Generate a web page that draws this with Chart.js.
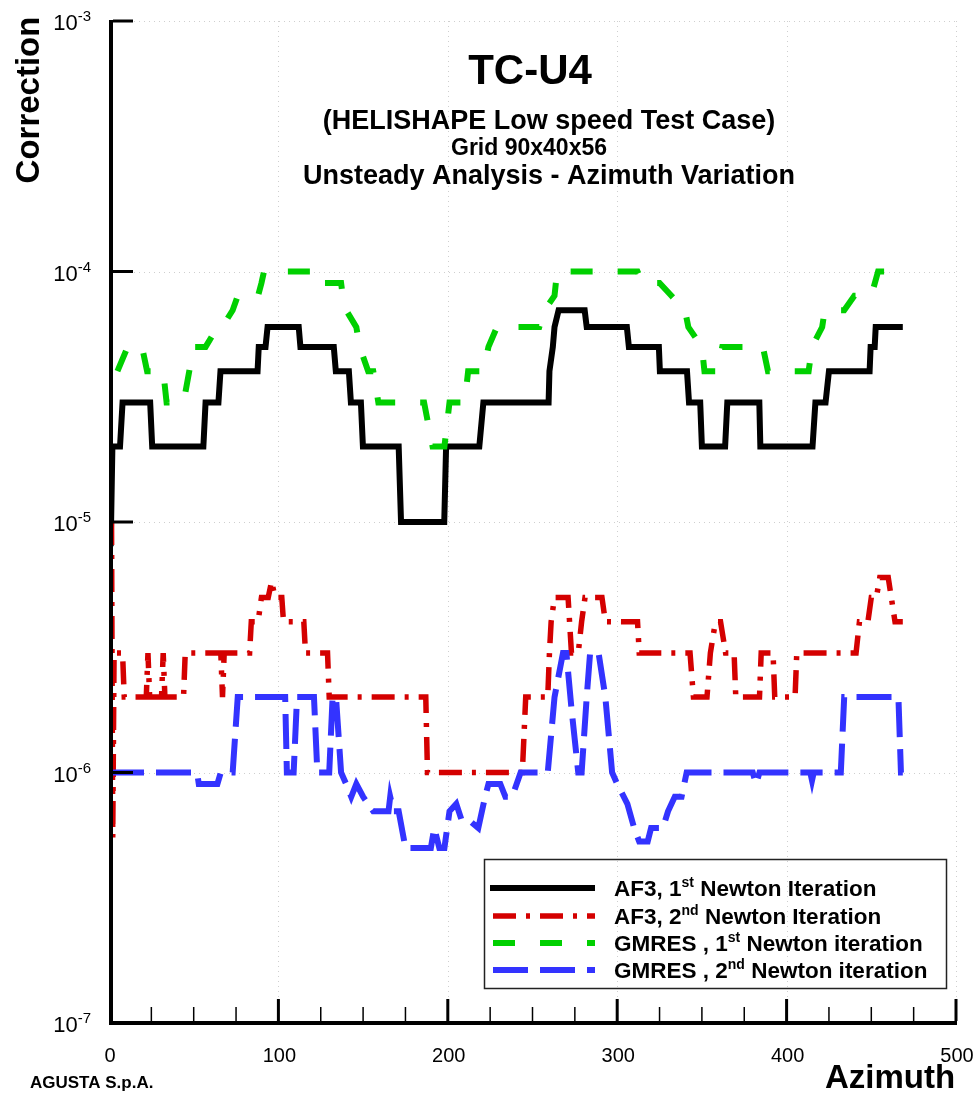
<!DOCTYPE html>
<html>
<head>
<meta charset="utf-8">
<script src="https://cdn.jsdelivr.net/npm/chart.js@4.4.1/dist/chart.umd.min.js"></script>
<style>
  html, body { margin: 0; padding: 0; background: #fff; }
  #wrap { width: 979px; height: 1097px; }
</style>
</head>
<body>
<div id="wrap"><canvas id="chart" width="979" height="1097"></canvas></div>
<script>
// AF3, 1st Newton iteration
const af3FirstAz = [1, 2, 6.5, 8, 24.3, 25.5, 55.7, 57, 64.6, 65.8, 87.7, 88.4, 92.4, 93.6, 112, 113,
  132.7, 133.9, 141.6, 142.8, 148.7, 149.9, 171, 172.4, 197.9, 199, 218.6, 221, 259.5, 260, 262, 263,
  265.4, 280.8, 282, 305.7, 306.9, 324.6, 325.2, 341.2, 342.4, 349, 350, 363.7, 365, 383.9, 384.5,
  415.3, 417, 423, 425, 449, 449.6, 452, 452.6, 468.6];
const af3FirstVal = [8e-6, 2e-5, 2e-5, 3e-5, 3e-5, 2e-5, 2e-5, 3e-5, 3e-5, 4e-5, 4e-5, 5e-5, 5e-5, 6e-5, 6e-5, 5e-5,
  5e-5, 4e-5, 4e-5, 3e-5, 3e-5, 2e-5, 2e-5, 1e-5, 1e-5, 2e-5, 2e-5, 3e-5, 3e-5, 4e-5, 5e-5, 6e-5,
  7e-5, 7e-5, 6e-5, 6e-5, 5e-5, 5e-5, 4e-5, 4e-5, 3e-5, 3e-5, 2e-5, 2e-5, 3e-5, 3e-5, 2e-5,
  2e-5, 3e-5, 3e-5, 4e-5, 4e-5, 5e-5, 5e-5, 6e-5, 6e-5];

// AF3, 2nd Newton iteration
const af3SecondAz = [1.5, 2.2, 3, 8, 9, 22, 23, 24, 31, 32, 33, 44, 45, 66, 67, 68, 83, 84, 88, 90,
  94, 96, 98, 102, 103, 115, 116, 129, 130, 187, 188, 244, 246, 259, 260, 261, 263, 271, 273, 277,
  279, 281, 291, 293, 312, 313, 343, 345, 353, 355, 358, 361, 364, 369, 370, 384, 385, 392, 393, 405,
  406, 441, 443, 448, 450, 453, 455, 460, 464, 468.6];
const af3SecondVal = [1e-5, 5.5e-7, 3e-6, 3e-6, 2e-6, 2e-6, 3e-6, 2e-6, 2e-6, 3e-6, 2e-6, 2e-6, 3e-6, 3e-6, 2e-6, 3e-6, 3e-6, 4e-6, 4e-6, 5e-6,
  5e-6, 5.8e-6, 5e-6, 5e-6, 4e-6, 4e-6, 3e-6, 3e-6, 2e-6, 2e-6, 1e-6, 1e-6, 2e-6, 2e-6, 3e-6, 4e-6, 5e-6, 5e-6, 3e-6, 3e-6,
  4e-6, 5e-6, 5e-6, 4e-6, 4e-6, 3e-6, 3e-6, 2e-6, 2e-6, 3e-6, 4e-6, 4e-6, 3e-6, 3e-6, 2e-6, 2e-6, 3e-6, 3e-6, 2e-6, 2e-6,
  3e-6, 3e-6, 4e-6, 4e-6, 5e-6, 5e-6, 6e-6, 6e-6, 4e-6, 4e-6];

// GMRES, 1st Newton iteration
const gmresFirstAz = [5, 11, 19.5, 22.5, 32, 34, 42, 44, 50, 57, 64, 70, 73, 76, 88, 90, 91.5, 125, 126, 137,
  138, 140, 146, 148, 153, 156, 159, 186, 191, 198, 201, 210, 212, 221, 224, 229, 254, 257, 263, 264.5,
  312, 315, 325, 332, 340, 342, 350, 351.5, 359, 362, 386, 389, 413, 415, 421, 422.5, 434, 440, 450, 454, 468.6];
const gmresFirstVal = [4e-5, 5e-5, 5e-5, 4e-5, 4e-5, 3e-5, 3e-5, 3e-5, 5e-5, 5e-5, 6e-5, 6.5e-5, 7e-5, 8e-5, 8e-5, 9e-5, 1e-4, 1e-4, 9e-5, 9e-5,
  8e-5, 7e-5, 6e-5, 5e-5, 4e-5, 4e-5, 3e-5, 3e-5, 2e-5, 2e-5, 3e-5, 3e-5, 4e-5, 4e-5, 5e-5, 6e-5, 6e-5, 7e-5, 8e-5, 1e-4,
  1e-4, 9e-5, 9e-5, 8e-5, 7e-5, 6e-5, 5e-5, 4e-5, 4e-5, 5e-5, 5e-5, 4e-5, 4e-5, 5e-5, 6e-5, 7e-5, 7e-5, 8e-5, 8e-5, 1e-4, 1e-4];

// GMRES, 2nd Newton iteration
const gmresSecondAz = [0, 52, 53, 64, 66, 73, 76, 104, 105, 109, 111, 121, 123, 130, 132, 134, 137, 140, 143, 146,
  150, 156, 165, 166, 168, 171, 175, 190, 192, 195, 198, 201, 205, 208, 212, 218, 222, 224, 231, 234,
  238, 243, 259, 263, 268, 270, 273, 277, 279, 282, 284, 289, 293, 297, 300, 306, 310, 313, 318, 320,
  327, 330, 334, 338, 341, 380, 382, 384, 414, 415, 416, 432, 434, 466, 467.5, 468.6];
const gmresSecondVal = [1e-6, 1e-6, 9e-7, 9e-7, 1e-6, 1e-6, 2e-6, 2e-6, 1e-6, 1e-6, 2e-6, 2e-6, 1e-6, 1e-6, 2e-6, 2e-6, 1e-6, 9e-7, 8e-7, 9e-7,
  8e-7, 7e-7, 7e-7, 8e-7, 7e-7, 7e-7, 5e-7, 5e-7, 6e-7, 5e-7, 5e-7, 7e-7, 7.5e-7, 6.5e-7, 6.5e-7, 6e-7, 8e-7, 9e-7, 9e-7, 8e-7,
  8e-7, 1e-6, 1e-6, 2e-6, 3e-6, 3e-6, 1.8e-6, 1e-6, 1e-6, 2e-6, 3e-6, 3e-6, 2e-6, 1e-6, 9e-7, 7.5e-7, 6e-7, 5.3e-7, 5.3e-7, 6e-7,
  6e-7, 7e-7, 8e-7, 8e-7, 1e-6, 1e-6, 9e-7, 1e-6, 1e-6, 9.3e-7, 1e-6, 1e-6, 2e-6, 2e-6, 1e-6, 1e-6];

// axes
const xMajorTicks = [0, 100, 200, 300, 400, 500];
const xTickLabels = ['0', '100', '200', '300', '400', '500'];
const yDecades = [-3, -4, -5, -6, -7];

// legend texts: [text, superscript, text]
const legendParts = [
  ['AF3, 1', 'st', ' Newton Iteration'],
  ['AF3, 2', 'nd', ' Newton Iteration'],
  ['GMRES , 1', 'st', ' Newton iteration'],
  ['GMRES , 2', 'nd', ' Newton iteration']
];

const FONT = '"Liberation Sans", Arial, Helvetica, sans-serif';

function pts(az, val) {
  return az.map((a, i) => ({ x: a, y: val[i] }));
}

function line(ctx, x1, y1, x2, y2) {
  ctx.beginPath();
  ctx.moveTo(x1, y1);
  ctx.lineTo(x2, y2);
  ctx.stroke();
}

// draws text with superscripts, parts alternate normal / sup
function drawParts(ctx, x, y, parts, size, weight) {
  let cx = x;
  parts.forEach((p, i) => {
    const sup = i % 2 === 1;
    ctx.font = `${weight} ${sup ? Math.round(size * 0.6) : size}px ${FONT}`;
    ctx.fillText(p, cx, sup ? y - size * 0.4 : y);
    cx += ctx.measureText(p).width;
  });
}

const decor = {
  id: 'decor',
  beforeDatasetsDraw(chart) {
    const { ctx, chartArea: a, scales: { x, y } } = chart;
    ctx.save();
    // faint dotted grid at the major ticks
    ctx.strokeStyle = '#cfcfcf';
    ctx.lineWidth = 1;
    ctx.setLineDash([1, 4]);
    xMajorTicks.slice(1).forEach(v => {
      const px = Math.round(x.getPixelForValue(v)) + 0.5;
      line(ctx, px, a.top, px, a.bottom);
    });
    yDecades.slice(0, -1).forEach(e => {
      const py = Math.round(y.getPixelForValue(Math.pow(10, e))) + 0.5;
      line(ctx, a.left, py, a.right, py);
    });
    ctx.restore();
  },
  afterDatasetsDraw(chart) {
    const { ctx, chartArea: a, scales: { x, y } } = chart;
    ctx.save();
    ctx.fillStyle = '#000';
    ctx.strokeStyle = '#000';

    // axis lines
    ctx.fillRect(a.left, a.top - 1, 4, a.bottom - a.top + 3);
    ctx.fillRect(a.left, a.bottom - 2, a.right - a.left + 1, 4);

    // y ticks (inward), major at decades, minor 2..9
    yDecades.forEach(e => {
      const py = y.getPixelForValue(Math.pow(10, e));
      ctx.lineWidth = 3;
      line(ctx, a.left + 4, py, a.left + 24, py);
      if (e > -3) {
        ctx.lineWidth = 1.5;
        for (let m = 2; m <= 9; m++) {
          const pm = y.getPixelForValue(m * Math.pow(10, e));
          line(ctx, a.left + 4, pm, a.left + 15, pm);
        }
      }
    });

    // x ticks (upward), major every 100, minor every 25
    for (let v = 0; v <= 500; v += 25) {
      const px = x.getPixelForValue(v);
      const major = v % 100 === 0;
      ctx.lineWidth = major ? 3 : 1.5;
      if (v > 0) line(ctx, px, a.bottom - 2, px, a.bottom - (major ? 24 : 16));
    }

    // tick labels
    ctx.textBaseline = 'middle';
    ctx.textAlign = 'center';
    ctx.font = `20px ${FONT}`;
    xMajorTicks.forEach((v, i) => {
      ctx.fillText(xTickLabels[i], x.getPixelForValue(v) + 1, a.bottom + 33);
    });
    ctx.textAlign = 'left';
    yDecades.forEach(e => {
      const py = y.getPixelForValue(Math.pow(10, e));
      ctx.font = `15px ${FONT}`;
      const sup = String(e);
      const sw = ctx.measureText(sup).width;
      ctx.font = `22px ${FONT}`;
      const bw = ctx.measureText('10').width;
      const right = 91;
      ctx.fillText('10', right - sw - bw, py + 3);
      ctx.font = `15px ${FONT}`;
      ctx.fillText(sup, right - sw, py - 4);
    });

    // axis titles
    ctx.font = `bold 33px ${FONT}`;
    ctx.textAlign = 'center';
    ctx.save();
    ctx.translate(30, 100);
    ctx.rotate(-Math.PI / 2);
    ctx.fillText('Correction', 0, 0);
    ctx.restore();
    ctx.fillText('Azimuth', 890, 1079);
    ctx.font = `bold 17px ${FONT}`;
    ctx.textAlign = 'left';
    ctx.fillText('AGUSTA S.p.A.', 30, 1083);

    // title block
    ctx.textAlign = 'center';
    ctx.font = `bold 42px ${FONT}`;
    ctx.fillText('TC-U4', 530, 72);
    ctx.font = `bold 27px ${FONT}`;
    ctx.fillText('(HELISHAPE Low speed Test Case)', 549, 122);
    ctx.fillText('Unsteady Analysis - Azimuth Variation', 549, 177);
    ctx.font = `bold 23px ${FONT}`;
    ctx.fillText('Grid 90x40x56', 529, 149);

    // legend
    ctx.lineWidth = 1.5;
    ctx.strokeStyle = '#222';
    ctx.strokeRect(484.5, 859.5, 462, 129);
    const rowY = [888, 916, 943, 970];
    chart.data.datasets.forEach((ds, i) => {
      ctx.save();
      ctx.strokeStyle = ds.borderColor;
      ctx.lineWidth = ds.borderWidth;
      ctx.setLineDash(ds.borderDash);
      line(ctx, i === 0 ? 490 : 493, rowY[i], 595, rowY[i]);
      ctx.restore();
      ctx.textAlign = 'left';
      ctx.textBaseline = 'alphabetic';
      ctx.fillStyle = '#000';
      drawParts(ctx, 614, rowY[i] + 8, legendParts[i], 22.5, 'bold');
    });
    ctx.restore();
  }
};

new Chart(document.getElementById('chart'), {
  type: 'line',
  data: {
    datasets: [
      { label: 'AF3, 1st Newton Iteration', data: pts(af3FirstAz, af3FirstVal),
        borderColor: '#000000', borderWidth: 6, borderDash: [], order: 4 },
      { label: 'AF3, 2nd Newton Iteration', data: pts(af3SecondAz, af3SecondVal),
        borderColor: '#d40000', borderWidth: 5.5, borderDash: [23, 10, 4, 10], order: 3 },
      { label: 'GMRES , 1st Newton iteration', data: pts(gmresFirstAz, gmresFirstVal),
        borderColor: '#00d000', borderWidth: 6, borderDash: [22, 25], order: 2 },
      { label: 'GMRES , 2nd Newton iteration', data: pts(gmresSecondAz, gmresSecondVal),
        borderColor: '#3333ff', borderWidth: 6, borderDash: [35, 12], order: 1 }
    ]
  },
  options: {
    responsive: false,
    animation: false,
    devicePixelRatio: 1,
    layout: { padding: { left: 109, right: 23, top: 21, bottom: 74 } },
    elements: {
      point: { radius: 0 },
      line: { tension: 0, borderJoinStyle: 'miter', borderCapStyle: 'butt', fill: false }
    },
    plugins: { legend: { display: false }, tooltip: { enabled: false }, title: { display: false } },
    scales: {
      x: {
        type: 'linear', min: 0, max: 500,
        grid: { display: false }, border: { display: false }, ticks: { display: false },
        afterFit: s => { s.height = 0; }
      },
      y: {
        type: 'logarithmic', min: 1e-7, max: 1e-3,
        grid: { display: false }, border: { display: false }, ticks: { display: false },
        afterFit: s => { s.width = 0; }
      }
    }
  },
  plugins: [decor]
});
</script>
</body>
</html>
